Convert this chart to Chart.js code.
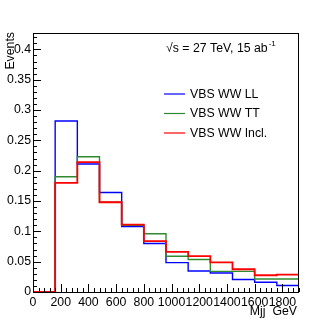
<!DOCTYPE html>
<html>
<head>
<meta charset="utf-8">
<script src="https://cdn.jsdelivr.net/npm/chart.js@4/dist/chart.umd.min.js"></script>
<style>
  html, body { margin: 0; padding: 0; background: #fff; }
  #wrap { width: 332px; height: 324px; }
</style>
</head>
<body>
<div id="wrap"><canvas id="c" width="332" height="324"></canvas></div>
<script>
// ---- data ----
const binEdges = [0, 160, 320, 480, 640, 800, 960, 1120, 1280, 1440, 1600, 1760, 1920];
const llValues   = [0, 0.282, 0.211, 0.164, 0.108, 0.080, 0.0485, 0.0347, 0.0314, 0.0205, 0.016, 0.0106];
const ttValues   = [0, 0.190, 0.223, 0.148, 0.110, 0.096, 0.059, 0.0535, 0.034, 0.034, 0.0215, 0.0215];
const inclValues = [0, 0.180, 0.214, 0.148, 0.111, 0.084, 0.066, 0.059, 0.049, 0.0375, 0.0276, 0.0287];
const seriesNames = ['VBS WW LL', 'VBS WW TT', 'VBS WW Incl.'];
const xTickValues = [0, 200, 400, 600, 800, 1000, 1200, 1400, 1600, 1800];
const yTickValues = [0, 0.05, 0.1, 0.15, 0.2, 0.25, 0.3, 0.35, 0.4];
const xTitle = 'Mjj  GeV';
const yTitle = 'Events';
const infoText = '\u221As = 27 TeV, 15 ab';
const infoSup = '-1';

const FONT = '"Liberation Sans", Arial, Helvetica, sans-serif';
const colors = ['#0000ff', '#2f8a2f', '#ff0000'];

function histPoints(vals) {
  const pts = vals.map((v, i) => ({x: binEdges[i], y: v}));
  pts.push({x: binEdges[binEdges.length - 1], y: vals[vals.length - 1]});
  return pts;
}

const decor = {
  id: 'decor',
  afterDatasetsDraw(chart) {
    const ctx = chart.ctx;
    const a = chart.chartArea;
    const xs = chart.scales.x, ys = chart.scales.y;
    ctx.save();
    ctx.strokeStyle = '#000';
    ctx.lineWidth = 1;
    // frame
    ctx.strokeRect(Math.round(a.left) + 0.5, Math.round(a.top) + 0.5,
                   Math.round(a.right - a.left) - 1, Math.round(a.bottom - a.top));
    // y ticks (inward)
    ctx.beginPath();
    for (let i = 0; i <= 42; i++) {
      const v = i * 0.01;
      const y = Math.round(ys.getPixelForValue(v)) + 0.5;
      const len = (i % 5 === 0) ? 8 : 4;
      ctx.moveTo(a.left, y); ctx.lineTo(a.left + len, y);
    }
    // x ticks (inward)
    for (let i = 0; i <= 48; i++) {
      const v = i * 40;
      const x = Math.round(xs.getPixelForValue(v)) + 0.5;
      const len = (i % 5 === 0) ? 8 : 4;
      ctx.moveTo(x, a.bottom); ctx.lineTo(x, a.bottom - len);
    }
    ctx.stroke();

    ctx.fillStyle = '#000';
    ctx.font = '12.3px ' + FONT;
    // x title
    ctx.textAlign = 'right'; ctx.textBaseline = 'alphabetic';
    ctx.fillText(xTitle, 297, 315);
    // y title
    ctx.save();
    ctx.translate(13.5, 32);
    ctx.rotate(-Math.PI / 2);
    ctx.textAlign = 'right'; ctx.textBaseline = 'alphabetic';
    ctx.fillText(yTitle, 0, 0);
    ctx.restore();

    // info text
    ctx.textAlign = 'left'; ctx.textBaseline = 'middle';
    ctx.font = '12.3px ' + FONT;
    ctx.fillText(infoText, 166, 49);
    const w = ctx.measureText(infoText).width;
    ctx.font = '8px ' + FONT;
    ctx.fillText(infoSup, 166 + w + 1, 44);

    // legend
    const ly = [94, 113.5, 133];
    ctx.font = '12.3px ' + FONT;
    for (let i = 0; i < 3; i++) {
      ctx.strokeStyle = colors[i];
      ctx.lineWidth = 1.2;
      ctx.beginPath();
      ctx.moveTo(164, ly[i]); ctx.lineTo(185, ly[i]);
      ctx.stroke();
      ctx.fillStyle = '#000';
      ctx.fillText(seriesNames[i], 190, ly[i] + 0.5);
    }
    ctx.restore();
  }
};

new Chart(document.getElementById('c'), {
  type: 'line',
  data: {
    datasets: [
      {label: seriesNames[0], data: histPoints(llValues), borderColor: colors[0], borderWidth: 1.4, order: 2},
      {label: seriesNames[1], data: histPoints(ttValues), borderColor: colors[1], borderWidth: 1.4, order: 1},
      {label: seriesNames[2], data: histPoints(inclValues), borderColor: colors[2], borderWidth: 1.8, order: 0}
    ]
  },
  options: {
    responsive: false,
    animation: false,
    events: [],
    parsing: true,
    elements: {
      point: {radius: 0},
      line: {stepped: true, tension: 0, fill: false, borderJoinStyle: 'miter'}
    },
    layout: {padding: {top: 33, right: 33, left: 0, bottom: 0}},
    plugins: {legend: {display: false}, tooltip: {enabled: false}},
    scales: {
      x: {
        type: 'linear', min: 0, max: 1920,
        grid: {display: false, drawTicks: false},
        border: {display: false},
        afterBuildTicks(s) { s.ticks = xTickValues.map(v => ({value: v})); },
        afterFit(s) { s.height = 32; },
        ticks: {
          autoSkip: false, maxRotation: 0, minRotation: 0, padding: 3,
          color: '#000', font: {family: FONT, size: 12.3},
          callback: v => String(v)
        }
      },
      y: {
        type: 'linear', min: 0, max: 0.427,
        grid: {display: false, drawTicks: false},
        border: {display: false},
        afterBuildTicks(s) { s.ticks = yTickValues.map(v => ({value: v})); },
        afterFit(s) { s.width = 33; },
        ticks: {
          autoSkip: false, padding: 2,
          color: '#000', font: {family: FONT, size: 12.3},
          callback: v => String(Math.round(v * 100) / 100)
        }
      }
    }
  },
  plugins: [decor]
});
</script>
</body>
</html>
